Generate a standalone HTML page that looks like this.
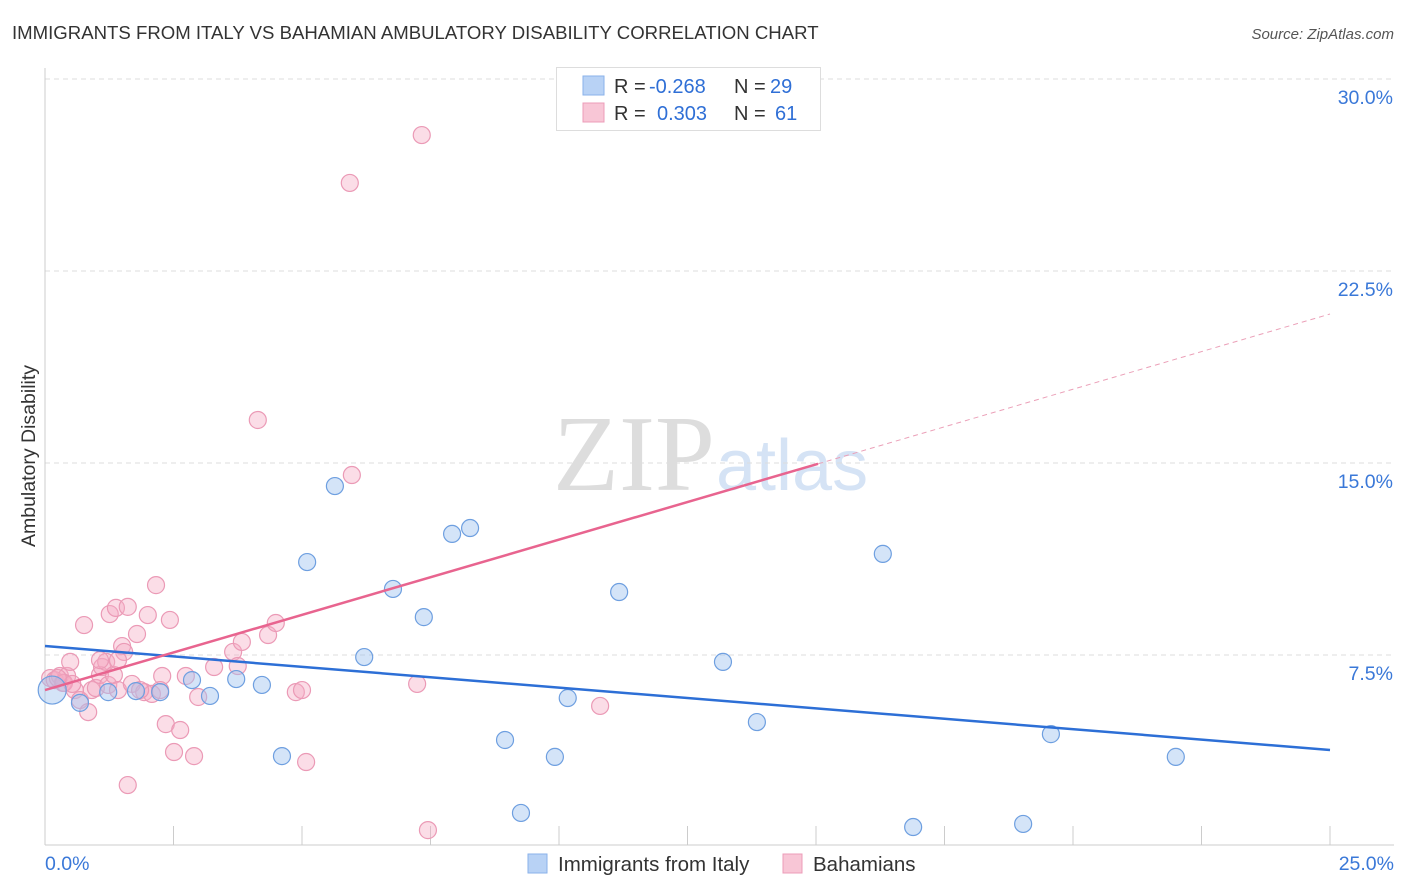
<!DOCTYPE html>
<html><head><meta charset="utf-8"><style>
body{margin:0;background:#fff;font-family:"Liberation Sans",sans-serif;}
svg{display:block}
</style></head><body>
<svg id="chart" width="1406" height="892">
<text x="12" y="39" font-size="18.6" fill="#333">IMMIGRANTS FROM ITALY VS BAHAMIAN AMBULATORY DISABILITY CORRELATION CHART</text>
<text x="1394" y="39" font-size="15" fill="#555" font-style="italic" text-anchor="end">Source: ZipAtlas.com</text>
<text x="35" y="456" font-size="19.5" fill="#333" text-anchor="middle" transform="rotate(-90 35 456)">Ambulatory Disability</text>
<text x="715" y="490" font-size="108" fill="#ddd" font-family="Liberation Serif" text-anchor="end">ZIP</text>
<text x="716" y="490" font-size="72" fill="#d5e3f5">atlas</text>
<g id="grid"></g><g id="marks"></g><g id="lines"></g>
<g>
<rect x="556.5" y="67.5" width="264" height="63" fill="#fff" stroke="#ddd"/>
<rect x="583" y="76" width="21" height="19" fill="#b8d2f5" stroke="#8ab2ea"/>
<rect x="583" y="103" width="21" height="19" fill="#f8c6d6" stroke="#ec9cb8"/>
<text x="614" y="93" font-size="20" fill="#333">R =</text>
<text x="649" y="93" font-size="20" fill="#2f6fd6">-0.268</text>
<text x="734" y="93" font-size="20" fill="#333">N =</text>
<text x="770" y="93" font-size="20" fill="#2f6fd6">29</text>
<text x="614" y="120" font-size="20" fill="#333">R =</text>
<text x="657" y="120" font-size="20" fill="#2f6fd6">0.303</text>
<text x="734" y="120" font-size="20" fill="#333">N =</text>
<text x="775" y="120" font-size="20" fill="#2f6fd6">61</text>
</g>
<g>
<rect x="528" y="854" width="19" height="19" fill="#b8d2f5" stroke="#8ab2ea"/>
<text x="558" y="871" font-size="20.5" fill="#333">Immigrants from Italy</text>
<rect x="783" y="854" width="19" height="19" fill="#f8c6d6" stroke="#ec9cb8"/>
<text x="813" y="871" font-size="20.5" fill="#333">Bahamians</text>
</g>
</svg>
<script>
const blueX=[0.14,0.68,1.23,1.77,2.24,2.86,3.21,3.72,4.22,4.61,5.10,5.64,6.21,6.77,7.37,7.92,8.27,8.95,9.26,9.92,10.17,11.17,13.19,13.85,16.30,16.89,19.03,19.57,22.00];
const blueY=[6.13,5.63,6.05,6.09,6.05,6.52,5.90,6.56,6.33,3.55,11.13,14.10,7.42,10.08,8.98,12.23,12.46,4.18,1.33,3.52,5.82,9.96,7.23,4.88,11.45,0.78,0.90,4.41,3.52];
const pinkX=[0.10,0.19,0.29,0.35,0.43,0.49,0.58,0.68,0.76,0.84,0.91,0.99,1.07,1.11,1.19,1.23,1.26,1.34,1.38,1.42,1.50,1.54,1.61,1.61,1.69,1.79,1.93,2.00,2.08,2.16,2.28,2.35,2.43,2.51,2.63,2.74,2.90,2.98,3.29,3.66,3.75,3.83,4.14,4.34,4.49,4.88,5.00,5.08,5.93,5.97,7.24,7.33,7.45,10.80,0.37,0.53,0.25,1.42,1.07,1.85,2.24];
const pinkY=[6.60,6.52,6.68,6.41,6.68,7.23,6.13,5.74,8.67,5.27,6.13,6.21,6.72,7.03,7.23,6.33,9.10,6.72,9.34,6.13,7.85,7.62,9.38,2.42,6.37,8.32,6.05,9.06,5.98,10.23,6.68,4.80,8.87,3.71,4.57,6.68,3.55,5.86,7.03,7.62,7.07,8.01,16.68,8.28,8.75,6.05,6.13,3.32,25.94,14.53,6.37,27.81,0.66,5.51,6.41,6.37,6.60,7.30,7.30,6.13,6.13];
const blueTrend=[7.85,3.79];
const pinkTrend=[6.13,20.82];
const pinkSolidEnd=15.04;
const yTicks=[7.5,15,22.5,30];
const yTickLabels=["7.5%","15.0%","22.5%","30.0%"];
const xTickVals=[0,2.5,5,7.5,10,12.5,15,17.5,20,22.5,25];
const xLabels=["0.0%","25.0%"];

const NS="http://www.w3.org/2000/svg";
const X0=45,X1=1330,Y0=847,PPY=192/7.5;
const sx=v=>X0+(v/25)*(X1-X0);
const sy=v=>Y0-v*PPY;
function mk(tag,attrs,parent){const e=document.createElementNS(NS,tag);for(const k in attrs)e.setAttribute(k,attrs[k]);parent.appendChild(e);return e;}
const grid=document.getElementById('grid'),marks=document.getElementById('marks'),lines=document.getElementById('lines');
yTicks.forEach((t,i)=>{
 const g=mk('line',{x1:X0,x2:1394,y1:sy(t),y2:sy(t),stroke:'#ddd','stroke-dasharray':'5,4'},grid);
 
 
 const l=mk('text',{x:1393,y:sy(t)+25,'font-size':19.5,fill:'#3a78d8','text-anchor':'end'},grid);
 l.textContent=yTickLabels[i];
 
 
});
const ax=mk('line',{x1:X0,x2:X0,y1:68,y2:845,stroke:'#ccc'},grid);


const bx=mk('line',{x1:X0,x2:1394,y1:845,y2:845,stroke:'#ccc'},grid);


xTickVals.forEach(v=>{
 const t=mk('line',{x1:sx(v),x2:sx(v),y1:826,y2:845,stroke:'#ccc'},grid);
 
 
});
[[0,'start',45],[25,'end',1394]].forEach((d,i)=>{
 const l=mk('text',{x:d[2],y:870,'font-size':19.5,fill:'#3a78d8','text-anchor':d[1]},grid);
 l.textContent=xLabels[i];
 
 
});
pinkX.forEach((x,i)=>{
 const c=mk('circle',{cx:sx(x),cy:sy(pinkY[i]),r:8.5,fill:'rgba(244,170,196,0.4)',stroke:'#eb9ab6','stroke-width':1.2},marks);
 
 
});
blueX.forEach((x,i)=>{
 const c=mk('circle',{cx:sx(x),cy:sy(blueY[i]),r:i===0?14:8.5,fill:'rgba(160,196,240,0.45)',stroke:'#6e9fe0','stroke-width':1.2},marks);
 
 
});
const bl=mk('line',{x1:sx(0),y1:sy(blueTrend[0]),x2:sx(25),y2:sy(blueTrend[1]),stroke:'#2d6fd6','stroke-width':2.5},lines);


const py=v=>pinkTrend[0]+(pinkTrend[1]-pinkTrend[0])*v/25;
const pl=mk('line',{x1:sx(0),y1:sy(py(0)),x2:sx(pinkSolidEnd),y2:sy(py(pinkSolidEnd)),stroke:'#e8648f','stroke-width':2.5},lines);


const pd=mk('line',{x1:sx(pinkSolidEnd),y1:sy(py(pinkSolidEnd)),x2:sx(25),y2:sy(py(25)),stroke:'#eba0b8','stroke-width':1,'stroke-dasharray':'5,4'},lines);


</script>
</body></html>
